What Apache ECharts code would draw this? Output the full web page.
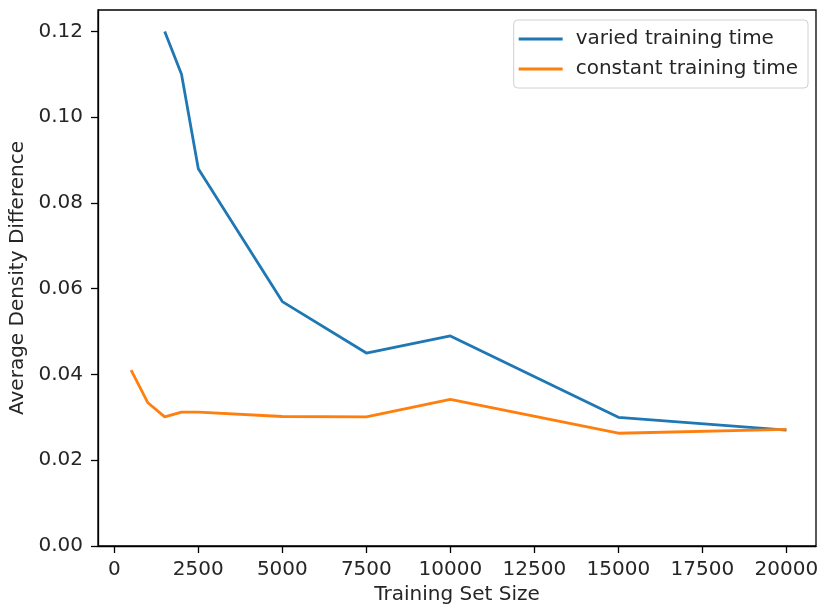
<!DOCTYPE html>
<html>
<head>
<meta charset="utf-8">
<style>
  html, body { margin: 0; padding: 0; background: #fff; }
  #chart { width: 818px; height: 607px; }
</style>
<script src="https://cdn.jsdelivr.net/npm/echarts@6/dist/echarts.min.js"></script>
</head>
<body>
<div id="chart"></div>
<script>
// Data
const seriesNames = ['varied training time', 'constant training time'];
const xVaried = [1500, 2000, 2500, 5000, 7500, 10000, 15000, 20000];
const yVaried = [0.120, 0.110, 0.088, 0.057, 0.045, 0.049, 0.030, 0.027];
const xConstant = [500, 1000, 1500, 2000, 2500, 5000, 7500, 10000, 15000, 20000];
const yConstant = [0.041, 0.0334, 0.0301, 0.0312, 0.0312, 0.0302, 0.0301, 0.0342, 0.0263, 0.0272];
const xTicks = [0, 2500, 5000, 7500, 10000, 12500, 15000, 17500, 20000];
const yTicks = [0, 0.02, 0.04, 0.06, 0.08, 0.10, 0.12];

const FONT = 'DejaVu Sans';
const TXT = '#262626';

const pairs = (xs, ys) => xs.map((x, i) => [x, ys[i]]);

const chart = echarts.init(document.getElementById('chart'), null, { renderer: 'canvas' });
chart.setOption({
  animation: false,
  backgroundColor: '#fff',
  textStyle: { fontFamily: FONT },
  grid: {
    left: 98, right: 2, top: 10, bottom: 61,
    containLabel: false,
    outerBoundsMode: 'none',
    show: true, borderColor: '#000', borderWidth: 1.3, backgroundColor: 'transparent'
  },
  legend: {
    orient: 'vertical',
    right: 10, top: 20,
    data: seriesNames,
    icon: 'rect',
    itemWidth: 44, itemHeight: 3,
    itemGap: 10,
    padding: [9, 10, 9, 5],
    borderColor: '#d0d0d0', borderWidth: 1, borderRadius: 4,
    backgroundColor: 'rgba(255,255,255,0.8)',
    textStyle: { fontFamily: FONT, fontSize: 20, color: TXT, padding: [0, 0, 0, 8], lineHeight: 20 }
  },
  xAxis: {
    type: 'value',
    min: -485, max: 20880,
    name: 'Training Set Size',
    nameLocation: 'middle',
    nameGap: 37,
    nameTextStyle: { fontFamily: FONT, fontSize: 20, color: TXT },
    axisLine: { show: true, onZero: false, lineStyle: { color: '#000', width: 1.3 } },
    axisTick: { show: true, inside: false, length: 7, customValues: xTicks, lineStyle: { color: '#000', width: 1.3 } },
    axisLabel: { customValues: xTicks, margin: 14, fontFamily: FONT, fontSize: 20, color: TXT,
      formatter: v => String(v) },
    splitLine: { show: false }
  },
  yAxis: {
    type: 'value',
    min: 0, max: 0.125,
    name: 'Average Density Difference',
    nameLocation: 'middle',
    nameGap: 70,
    nameTextStyle: { fontFamily: FONT, fontSize: 20, color: TXT },
    axisLine: { show: true, onZero: false, lineStyle: { color: '#000', width: 1.3 } },
    axisTick: { show: true, inside: false, length: 7, customValues: yTicks, lineStyle: { color: '#000', width: 1.3 } },
    axisLabel: {
      customValues: yTicks, margin: 15, fontFamily: FONT, fontSize: 20, color: TXT,
      formatter: v => v.toFixed(2)
    },
    splitLine: { show: false }
  },
  series: [
    {
      name: seriesNames[0], type: 'line', data: pairs(xVaried, yVaried),
      showSymbol: false, symbol: 'none',
      lineStyle: { color: '#1f77b4', width: 2.8 }, itemStyle: { color: '#1f77b4' }
    },
    {
      name: seriesNames[1], type: 'line', data: pairs(xConstant, yConstant),
      showSymbol: false, symbol: 'none',
      lineStyle: { color: '#ff7f0e', width: 2.8 }, itemStyle: { color: '#ff7f0e' }
    }
  ]
});
</script>
</body>
</html>
